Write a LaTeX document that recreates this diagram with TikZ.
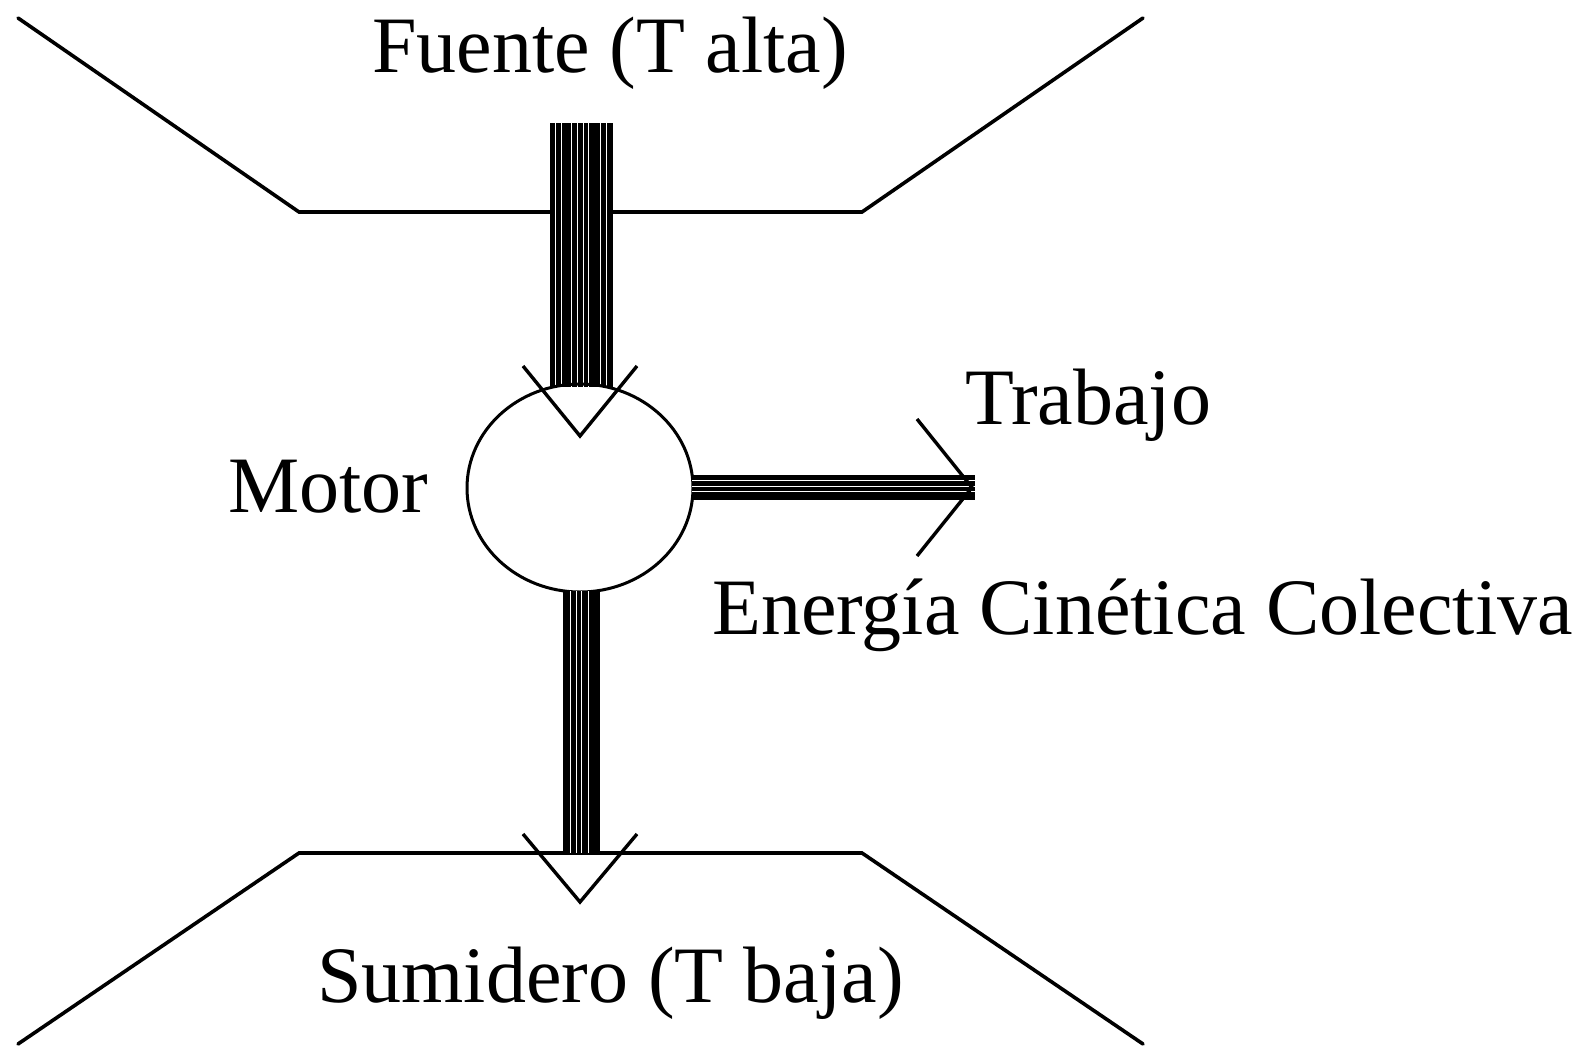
\documentclass[tikz,border=0pt]{standalone}
\usepackage{fontspec}
\setmainfont{Liberation Serif}
\usetikzlibrary{shapes.geometric}
\begin{document}
\begin{tikzpicture}[x=1pt,y=-1pt,
  lbl/.style={inner sep=0pt, anchor=base west, font=\fontsize{80}{96}\selectfont},
  edge/.style={line width=3.6pt, line cap=round, line join=miter},
  head/.style={line width=3.4pt, line cap=butt, line join=miter},
  gap/.style={white, line width=0.8pt}]
\useasboundingbox[fill=white] (0,0) rectangle (1589,1049);
% reservoirs
\draw[edge] (18,18) -- (299,212) -- (862,212) -- (1143,18);
\draw[edge] (18,1044) -- (299,853) -- (862,853) -- (1143,1044);
% named points
\coordinate (src) at (581.5,123);
\coordinate (snk) at (581.5,853);
\coordinate (wrk) at (975,487.5);
% top bundle (heat in)
\fill (550,123) rectangle (613,387);
\foreach \x in {555,561.7,571.7,577.3,583.3,588.3,600,606}
  \draw[gap] (\x,123) -- (\x,387);
% motor
\node[draw, ellipse, line width=3pt, minimum width=226pt, minimum height=208pt, inner sep=0pt] (motor) at (580,488) {};
% bottom bundle (heat out)
\fill (563,591) rectangle (600,853);
\foreach \x in {570,576,581.7,588.3}
  \draw[gap] (\x,591) -- (\x,853);
% horizontal bundle (work)
\fill (692,475) rectangle (975,500);
\foreach \y in {480,486.7,491.7}
  \draw[gap] (692,\y) -- (975,\y);
% arrow heads
\draw[head] (523,366) -- (580,436) -- (637,366);
\draw[head] (523,834) -- (580,902) -- (637,834);
\draw[head] (917,419) -- (972,487.5) -- (917,556);
% labels
\node[lbl] (fuente) at (372,72) {Fuente (T alta)};
\node[lbl] (mlabel) at (228,512) {Motor};
\node[lbl] (trabajo) at (965,424) {Trabajo};
\node[lbl] (ecc) at (712,634) {Energía Cinética Colectiva};
\node[lbl] (sumidero) at (317,1002) {Sumidero (T baja)};
\end{tikzpicture}
\end{document}
